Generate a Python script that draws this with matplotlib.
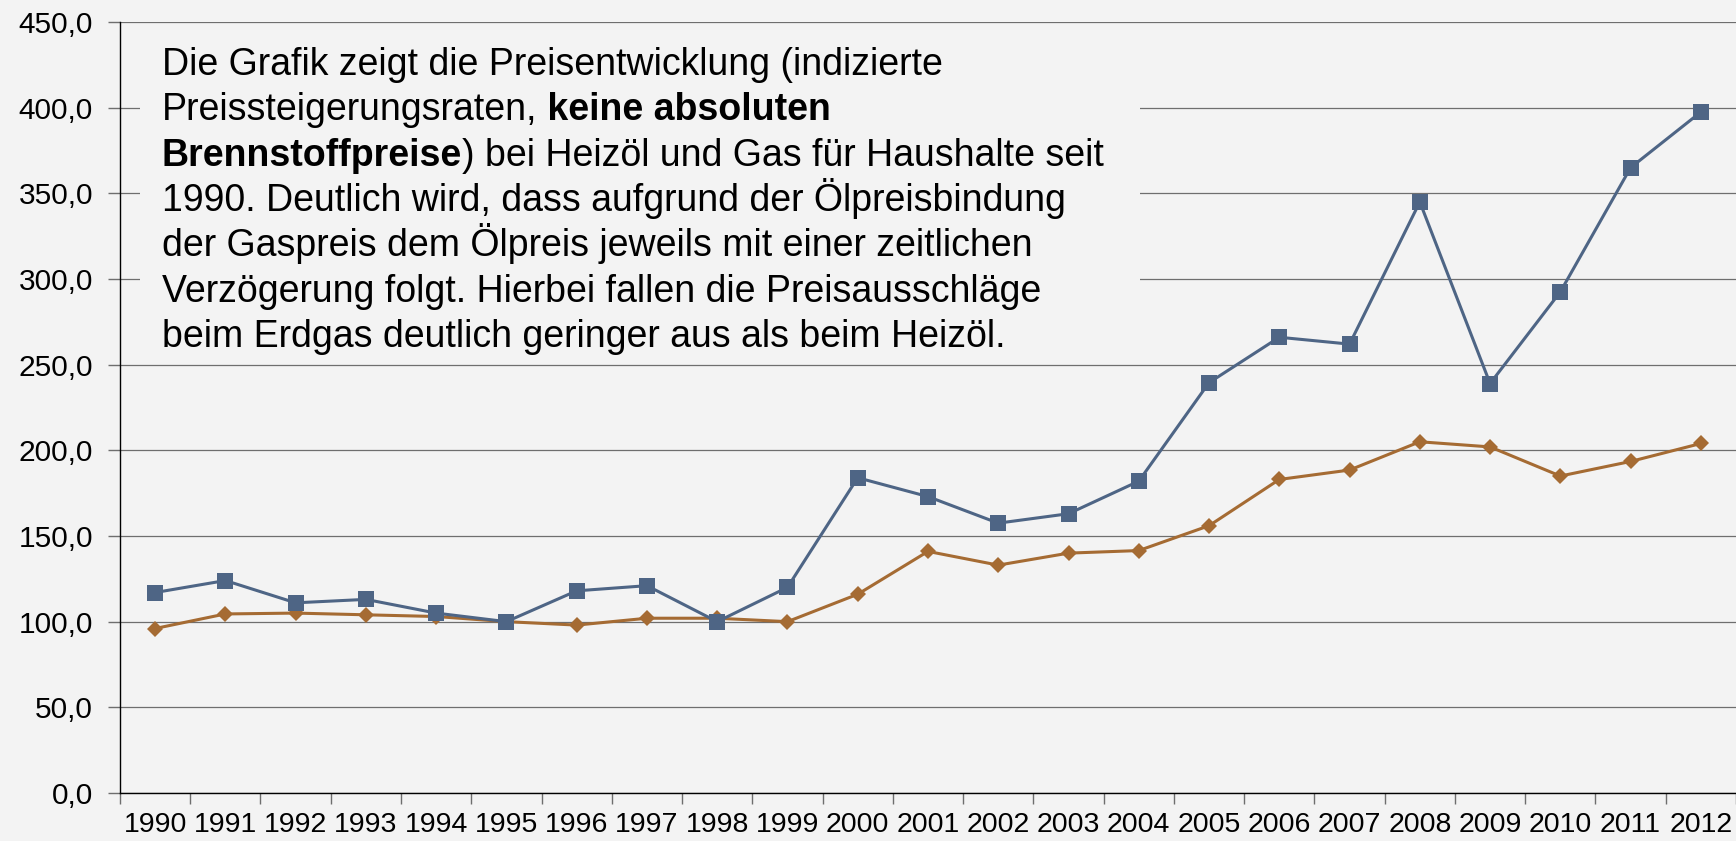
import matplotlib
matplotlib.use("Agg")
import matplotlib.pyplot as plt
from matplotlib.patches import Rectangle
from matplotlib.ticker import FuncFormatter

years = [str(y) for y in range(1990, 2013)]
heizoel = [117, 124, 111, 113, 105, 100, 118, 121, 100, 120, 184, 173, 157.5,
           163, 182, 239.5, 266, 262, 345, 239, 292.5, 365, 397.5]
erdgas = [96, 104.5, 105, 104, 103, 100, 98, 102, 102, 100, 116, 141, 133,
          140, 141.5, 156, 183, 188.5, 205, 202, 185, 193.5, 204]
y_ticks = [0, 50, 100, 150, 200, 250, 300, 350, 400, 450]

text_lines = [
    [("Die Grafik zeigt die Preisentwicklung (indizierte", "normal")],
    [("Preissteigerungsraten,", "normal"), (" keine absoluten", "bold")],
    [("Brennstoffpreise", "bold"), (") bei Heizöl und Gas für Haushalte seit", "normal")],
    [("1990. Deutlich wird, dass aufgrund der Ölpreisbindung", "normal")],
    [("der Gaspreis dem Ölpreis jeweils mit einer zeitlichen", "normal")],
    [("Verzögerung folgt. Hierbei fallen die Preisausschläge", "normal")],
    [("beim Erdgas deutlich geringer aus als beim Heizöl.", "normal")],
]

BG = "#f3f3f3"
GRID = "#6e6e6e"
plt.rcParams["font.family"] = ["Liberation Sans", "DejaVu Sans"]

fig = plt.figure(figsize=(17.36, 8.41), dpi=100, facecolor=BG)
ax = fig.add_axes([0.0691, 0.0571, 0.9309, 0.9167])
ax.set_facecolor(BG)

x = list(range(len(years)))
ax.plot(x, erdgas, color="#a56b33", lw=2.2, marker="D", ms=8.5, mew=0, zorder=3)
ax.plot(x, heizoel, color="#4e6585", lw=2.2, marker="s", ms=11.5, mew=0, zorder=4)

ax.set_xlim(-0.5, len(years) - 0.5)
ax.set_ylim(0, 450)
ax.set_yticks(y_ticks)
ax.yaxis.set_major_formatter(FuncFormatter(lambda v, p: f"{v:.1f}".replace(".", ",")))
ax.yaxis.grid(True, color=GRID, lw=0.9)
ax.set_axisbelow(True)

ax.set_xticks(x)
ax.set_xticklabels(years)
ax.set_xticks([i - 0.5 for i in range(len(years) + 1)], minor=True)
ax.tick_params(axis="x", which="major", length=0, pad=14, labelsize=20.5)
ax.tick_params(axis="x", which="minor", length=8, width=1, color=GRID)
ax.tick_params(axis="y", length=9, width=1, color=GRID, pad=10.5, labelsize=21.5)

for s in ["top", "right"]:
    ax.spines[s].set_visible(False)
for s in ["left", "bottom"]:
    ax.spines[s].set_color("black")
    ax.spines[s].set_linewidth(1)

# Textfeld deckt die Gitterlinien ab
ax.add_patch(Rectangle((0.0124, 0.575), 0.6185, 0.417, transform=ax.transAxes,
                       facecolor=BG, edgecolor="none", zorder=2))

fs = 27
x0, y0, dy = 0.026, 0.9313, 0.0588
for i, parts in enumerate(text_lines):
    prev = None
    for s, w in parts:
        if prev is None:
            prev = ax.text(x0, y0 - i * dy, s, transform=ax.transAxes, fontsize=fs,
                           fontweight=w, va="baseline", ha="left", zorder=5)
        else:
            prev = ax.annotate(s, xy=(1, 0), xycoords=prev, fontsize=fs,
                               fontweight=w, va="bottom", ha="left", zorder=5)

fig.savefig("out.png", dpi=100, facecolor=BG)
